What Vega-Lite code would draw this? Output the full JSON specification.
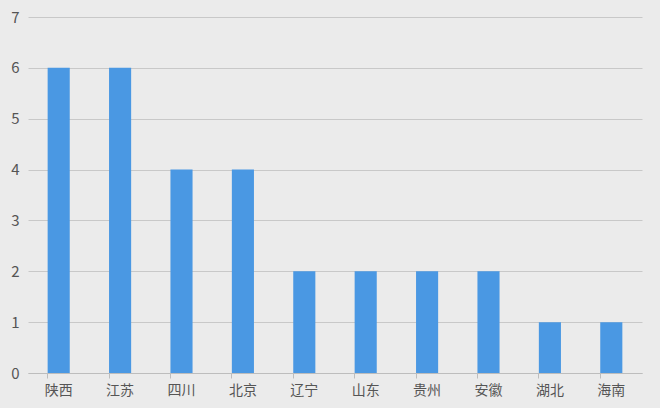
{
  "$schema": "https://vega.github.io/schema/vega-lite/v6.json",
  "width": 614,
  "height": 356,
  "autosize": {"type": "none"},
  "padding": {"left": 28, "top": 17, "right": 18, "bottom": 35},
  "background": "#ebebeb",
  "config": {
    "view": {"stroke": null},
    "font": "Noto Sans CJK SC"
  },
  "data": {
    "values": [
      {"province": "陕西", "count": 6},
      {"province": "江苏", "count": 6},
      {"province": "四川", "count": 4},
      {"province": "北京", "count": 4},
      {"province": "辽宁", "count": 2},
      {"province": "山东", "count": 2},
      {"province": "贵州", "count": 2},
      {"province": "安徽", "count": 2},
      {"province": "湖北", "count": 1},
      {"province": "海南", "count": 1}
    ]
  },
  "mark": {"type": "bar", "color": "#4a98e3"},
  "encoding": {
    "x": {
      "field": "province",
      "type": "nominal",
      "sort": null,
      "scale": {"paddingInner": 0.64, "paddingOuter": 0.32},
      "axis": {
        "title": null,
        "labelAngle": 0,
        "labelFontSize": 14,
        "labelColor": "#555555",
        "labelPadding": 5,
        "domainColor": "#bdbdbd",
        "tickColor": "#bdbdbd",
        "tickSize": 5,
        "bandPosition": 0,
        "grid": false
      }
    },
    "y": {
      "field": "count",
      "type": "quantitative",
      "scale": {"domain": [0, 7]},
      "axis": {
        "title": null,
        "tickCount": 7,
        "labelFontSize": 15,
        "labelColor": "#555555",
        "labelPadding": 9,
        "domain": false,
        "ticks": false,
        "gridColor": "#c8c8c8",
        "gridWidth": 1
      }
    }
  }
}
